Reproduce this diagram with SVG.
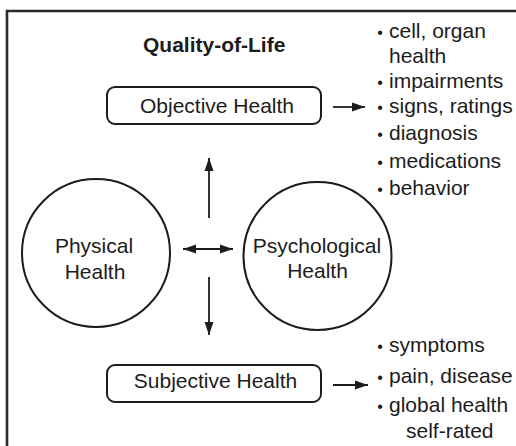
<svg xmlns="http://www.w3.org/2000/svg" width="516" height="446" viewBox="0 0 516 446">
<style>
text{font-family:"Liberation Sans",Arial,sans-serif;font-size:21px;fill:#1c1c1c}
.t{font-weight:bold}
.c{text-anchor:middle}
.b{text-anchor:middle;font-size:16px}
.node{fill:none;stroke:#1c1c1c;stroke-width:2}
.ln{fill:none;stroke:#1c1c1c;stroke-width:1.8}
</style>
<defs>
<marker id="ah" markerUnits="userSpaceOnUse" markerWidth="14" markerHeight="10" refX="13" refY="5" orient="auto-start-reverse">
<path d="M0,0.5 L13,5 L0,9.5 Z" fill="#1c1c1c"/>
</marker>
</defs>
<rect width="516" height="446" fill="#fff"/>
<path d="M7,446 V11 H516" fill="none" stroke="#2a2a2a" stroke-width="2.6"/>
<g id="title"><text class="t" x="143" y="52">Quality-of-Life</text></g>
<g id="objective">
<rect class="node" x="107" y="87" width="214" height="37" rx="8"/>
<text class="c" x="217" y="113">Objective Health</text>
</g>
<g id="subjective">
<rect class="node" x="107" y="365" width="214" height="37" rx="8"/>
<text class="c" x="215.5" y="388">Subjective Health</text>
</g>
<g id="physical">
<circle class="node" cx="96" cy="253" r="74"/>
<text class="c" x="94" y="253">Physical</text>
<text class="c" x="95" y="279">Health</text>
</g>
<g id="psychological">
<circle class="node" cx="317.5" cy="256" r="74"/>
<text class="c" x="317" y="253">Psychological</text>
<text class="c" x="317.5" y="278">Health</text>
</g>
<g id="objective-list">
<text class="b" x="380" y="38">•</text><text x="389" y="38">cell, organ</text>
<text x="389" y="63">health</text>
<text class="b" x="380" y="88">•</text><text x="389" y="88">impairments</text>
<text class="b" x="380" y="113">•</text><text x="389" y="113">signs, ratings</text>
<text class="b" x="380" y="140">•</text><text x="389" y="140">diagnosis</text>
<text class="b" x="380" y="168">•</text><text x="389" y="168">medications</text>
<text class="b" x="380" y="195">•</text><text x="389" y="195">behavior</text>
</g>
<g id="subjective-list">
<text class="b" x="380" y="352">•</text><text x="389" y="352">symptoms</text>
<text class="b" x="380" y="383">•</text><text x="389" y="383">pain, disease</text>
<text class="b" x="380" y="412">•</text><text x="389" y="412">global health</text>
<text x="406" y="438">self-rated</text>
</g>
<g id="connectors">
<line class="ln" x1="333" y1="107" x2="365" y2="107" marker-end="url(#ah)"/>
<line class="ln" x1="333" y1="385" x2="368" y2="385" marker-end="url(#ah)"/>
<line class="ln" x1="209" y1="218" x2="209" y2="158" marker-end="url(#ah)"/>
<line class="ln" x1="209" y1="277" x2="209" y2="335" marker-end="url(#ah)"/>
<line class="ln" x1="183" y1="249" x2="233" y2="249" marker-start="url(#ah)" marker-end="url(#ah)"/>
</g>
</svg>
